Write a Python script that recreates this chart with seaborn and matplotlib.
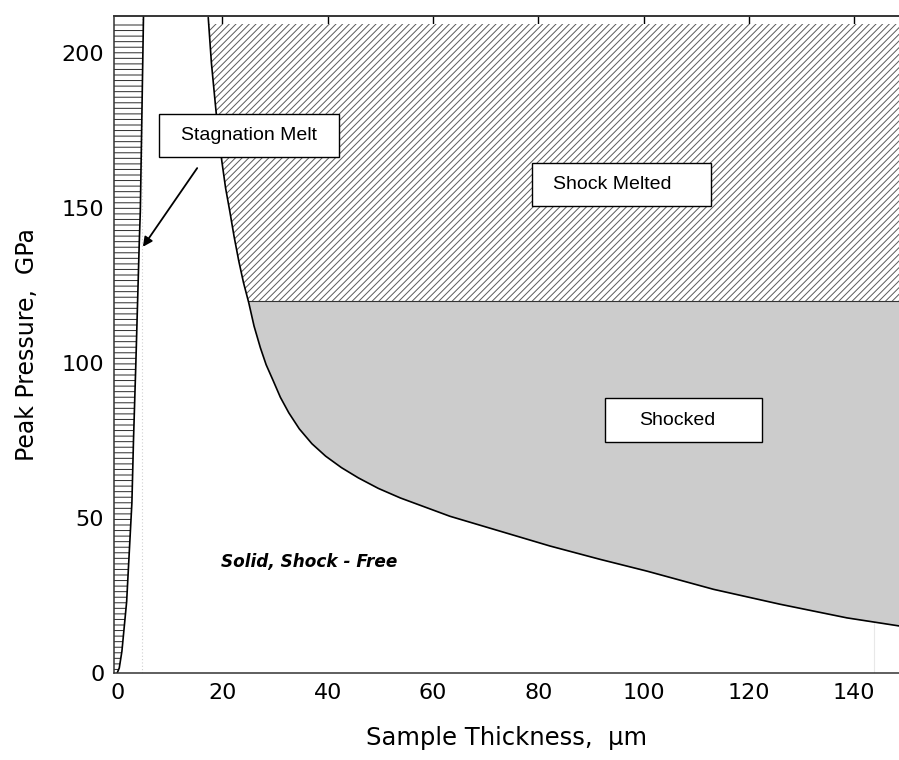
import numpy as np
import pandas as pd
import matplotlib
matplotlib.use("Agg")
import matplotlib.pyplot as plt
from matplotlib.patches import Rectangle
import seaborn as sns

# Shock boundary: sample thickness (um) vs peak pressure (GPa)
shock_thickness = [17.3, 17.9, 18.6, 19.2, 19.9, 20.6, 21.4, 22.2, 23.1, 24.0,
                   25.0, 26.0, 27.2, 28.3, 29.6, 31.0, 32.6, 34.6, 37.0,
                   39.6, 42.6, 45.8, 49.6, 53.8, 63.2, 72.7, 82.2, 91.7, 100.6,
                   113.3, 125.9, 138.6, 148.5]
shock_pressure = [211.6, 197.0, 184.5, 174.0, 165.0, 156.5, 149.0, 141.0, 133.0,
                  126.0, 119.5, 112.0, 105.0, 99.5, 94.5, 89.0, 84.0, 78.8,
                  74.0, 70.0, 66.3, 63.0, 59.6, 56.5, 50.6, 45.8, 41.0, 36.7,
                  32.9, 27.0, 22.2, 17.8, 15.2]

# Stagnation-melt boundary
stag_thickness = [0.0, 0.4, 0.9, 1.8, 2.8, 3.1, 3.55, 4.2, 4.4, 5.0]
stag_pressure = [0.0, 1.6, 7.0, 23.0, 55.0, 75.0, 100.0, 139.0, 149.0, 212.0]

melt_threshold = 120.0  # GPa, shock melting onset
fill_top = 209.5

x_ticks = [0, 20, 40, 60, 80, 100, 120, 140]
y_ticks = [0, 50, 100, 150, 200]

region_labels = ["Stagnation Melt", "Shock Melted", "Shocked"]
free_label = "Solid, Shock - Free"

sns.set_theme(style="white")
plt.rcParams["font.family"] = ["DejaVu Sans"]
plt.rcParams["hatch.linewidth"] = 0.7

fig = plt.figure(figsize=(8.99, 7.6), dpi=100)
ax = fig.add_axes([114 / 899, 1 - 673 / 760, 785 / 899, 657 / 760])

xmin, xmax = -0.6, 148.5
ymin, ymax = 0.0, 212.1
ax.set_xlim(xmin, xmax)
ax.set_ylim(ymin, ymax)

xs = np.array(shock_thickness)
ps = np.array(shock_pressure)

# Shock-melted zone (hatched)
melt = ax.fill_between(xs, np.maximum(ps, melt_threshold), ymax,
                       facecolor="white", edgecolor="#5a5a5a", hatch="/////",
                       linewidth=0, zorder=1)
melt.set_clip_path(Rectangle((xmin, ymin), xmax - xmin, fill_top - ymin,
                             transform=ax.transData))

# Shocked zone (gray)
ax.fill_between(xs, ps, melt_threshold, where=ps <= melt_threshold,
                interpolate=True, facecolor="#cccccc", linewidth=0, zorder=1)
x_cross = np.interp(melt_threshold, ps[::-1], xs[::-1])
ax.hlines(melt_threshold, x_cross, xmax, color="#333333", lw=0.8, zorder=2)

# Stagnation melt band (horizontal hatch)
stag = ax.fill_betweenx(stag_pressure, xmin, stag_thickness,
                        facecolor="white", edgecolor="#2a2a2a", hatch="---",
                        linewidth=0, zorder=1)
stag.set_clip_path(Rectangle((xmin, ymin), xmax - xmin, fill_top - ymin,
                             transform=ax.transData))

# faint guide lines
ax.axvline(4.8, color="#d0d0d0", lw=0.8, ls=(0, (1, 2)), zorder=0)
ax.vlines(143.8, 0, np.interp(143.8, xs, ps), color="#e8e8e8", lw=0.8, zorder=2)

# Boundary curves
shock_df = pd.DataFrame({"thickness": shock_thickness, "pressure": shock_pressure})
stag_df = pd.DataFrame({"thickness": stag_thickness, "pressure": stag_pressure})
sns.lineplot(data=shock_df, x="thickness", y="pressure", color="black", lw=1.2,
             sort=False, estimator=None, ax=ax, zorder=3)
sns.lineplot(data=stag_df, x="thickness", y="pressure", color="black", lw=1.2,
             sort=False, estimator=None, ax=ax, zorder=3)

# Labelled boxes
boxes = [
    (8.0, 166.5, 34.2, 14.0, 25.1, "center"),
    (78.8, 150.8, 34.0, 14.0, 82.7, "left"),
    (92.6, 74.5, 29.8, 14.2, 99.2, "left"),
]
for (bx, by, bw, bh, tx, ha), label in zip(boxes, region_labels):
    ax.add_patch(Rectangle((bx, by), bw, bh, facecolor="white",
                           edgecolor="black", lw=1.0, zorder=5))
    ax.text(tx, by + bh / 2, label, ha=ha, va="center", fontsize=14,
            family="Liberation Sans", color="black", zorder=6)

ax.annotate("", xy=(4.9, 137.6), xytext=(15.2, 163.0),
            arrowprops=dict(arrowstyle="-|>", color="black", lw=1.3,
                            mutation_scale=14, shrinkA=0, shrinkB=0),
            zorder=6)

ax.text(19.7, 35.7, free_label, ha="left", va="center", fontsize=12.2,
        style="italic", weight="bold", color="black", zorder=6)

# Axes styling
ax.set_xticks(x_ticks)
ax.set_yticks(y_ticks)
ax.tick_params(axis="both", direction="in", length=2.5, width=1,
               labelsize=16, color="#333333", labelcolor="black", pad=7)
ax.spines["right"].set_visible(False)
for side in ("left", "bottom", "top"):
    ax.spines[side].set_color("#333333")
    ax.spines[side].set_linewidth(1.1)
    ax.spines[side].set_zorder(7)

top = ax.secondary_xaxis("top")
top.set_xticks(x_ticks[1:])
top.tick_params(direction="in", length=6.5, width=1, color="black",
                labeltop=False)
top.spines["top"].set_color("#222222")
top.spines["top"].set_linewidth(1.1)

ax.set_xlabel("Sample Thickness,  μm", fontsize=17.5, labelpad=17,
              color="black")
ax.set_ylabel("Peak Pressure,  GPa", fontsize=17, labelpad=16, color="black")

fig.savefig("out.png", dpi=100)
